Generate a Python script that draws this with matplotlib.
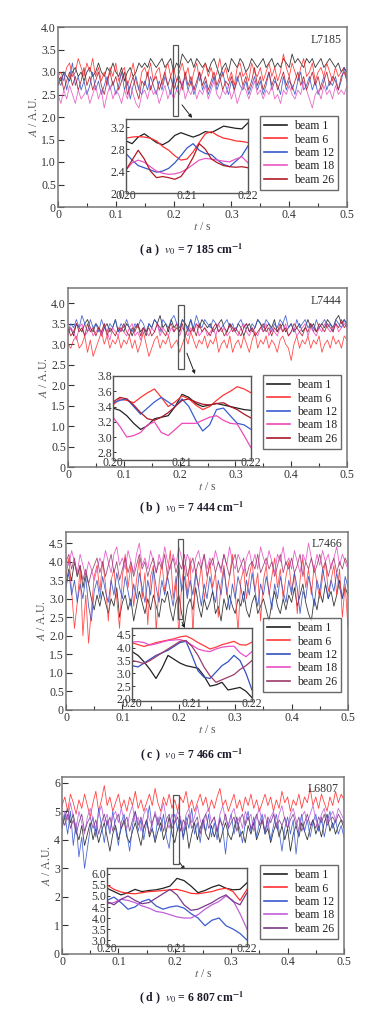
import numpy as np
import matplotlib
matplotlib.use("Agg")
import matplotlib.pyplot as plt
from matplotlib.patches import Rectangle
from matplotlib.ticker import FuncFormatter, MultipleLocator

plt.rcParams['font.family'] = ['Liberation Serif', 'DejaVu Serif']
plt.rcParams['mathtext.fontset'] = 'stix'

# --- time axes ---
t_main = np.linspace(0, 0.5, 101)
t_zoom = np.linspace(0.20, 0.22, 21)
beams = ["beam 1", "beam 6", "beam 12", "beam 18", "beam 26"]

# --- (a) L7185 ---
a_b1 = [2.9,2.8,3.0,2.9,2.8,3.0,3.1,2.9,3.0,2.8, 3.0,3.1,2.9,3.0,3.2,3.0,2.9,3.1,3.0,3.2,
        3.0,2.9,3.1,2.8,3.0,3.1,2.9,3.0,3.2,3.1, 3.2,3.1,3.3,3.2,3.1,3.2,3.3,3.1,3.2,3.3,
        3.0,3.2,3.1,3.4,3.3,3.2,3.3,3.1,3.3,3.2, 3.1,3.2,3.0,3.2,3.3,3.1,2.9,3.1,3.2,3.0,
        3.3,3.2,3.1,3.3,3.2,3.0,3.1,3.3,3.2,3.1, 3.2,3.3,3.1,3.2,3.3,3.1,3.2,3.1,3.3,3.2,
        3.1,3.4,3.2,3.3,3.2,3.1,3.3,3.2,3.3,3.1, 3.2,3.3,3.1,3.2,3.3,3.2,3.1,3.2,3.0,3.1, 3.0]
a_b6 = [2.9,3.0,2.8,3.1,3.2,2.9,3.0,3.3,3.1,2.9, 3.2,3.0,3.3,2.9,3.1,2.8,3.0,2.7,3.1,2.9,
        3.2,2.8,3.0,3.1,2.7,2.9,3.2,2.8,2.6,3.0, 3.1,2.9,3.2,2.8,3.0,3.1,2.7,3.0,3.2,2.9,
        3.1,2.8,3.0,3.2,2.9,3.1,2.7,3.0,3.2,2.8, 3.0,3.2,2.9,3.1,2.8,3.0,3.3,2.9,3.1,2.8,
        3.0,2.7,3.1,3.2,2.9,3.0,2.8,3.2,3.0,2.9, 3.1,2.8,3.0,3.2,2.9,3.1,2.8,3.0,3.4,3.1,
        2.9,3.2,3.0,2.8,3.1,3.3,2.9,3.0,3.2,2.8, 3.0,3.1,2.9,3.2,3.0,2.8,3.1,2.9,3.0,3.1, 2.9]
a_b12 = [2.8,2.7,3.0,2.6,2.9,3.2,2.7,2.9,2.6,2.8, 2.5,2.7,3.0,2.6,2.8,2.5,2.7,2.9,2.6,2.8,
         2.5,2.7,3.0,2.6,2.8,2.4,2.7,2.9,2.6,2.5, 2.8,2.6,2.9,2.7,2.5,2.8,2.6,2.9,2.7,2.5,
         2.9,2.6,2.8,2.7,2.9,2.6,2.8,2.5,2.7,3.0, 2.6,2.8,2.5,2.7,2.9,2.6,2.8,3.0,2.7,2.5,
         2.8,2.6,2.9,2.7,2.6,2.8,2.5,2.7,2.9,2.6, 2.8,2.5,2.7,3.0,2.6,2.8,2.7,2.5,2.9,2.6,
         2.8,2.7,2.5,2.8,3.0,2.6,2.7,2.9,2.6,2.8, 2.5,2.7,2.9,2.6,2.8,2.7,2.9,2.6,2.8,3.1, 2.8]
a_b18 = [2.5,2.3,2.6,2.4,2.7,2.5,2.3,2.6,2.4,2.5, 2.6,2.3,2.5,2.7,2.4,2.6,2.2,2.5,2.7,2.4,
         2.6,2.5,2.3,2.6,2.4,2.7,2.5,2.3,2.2,2.5, 2.6,2.4,2.7,2.5,2.6,2.3,2.5,2.7,2.4,2.6,
         2.4,2.6,2.5,2.8,2.4,2.6,2.5,2.7,2.4,2.6, 2.5,2.7,2.4,2.6,2.8,2.5,2.4,2.6,2.5,2.7,
         2.4,2.6,2.3,2.5,2.7,2.6,2.4,2.6,2.8,2.5, 2.6,2.4,2.6,2.5,2.7,2.4,2.5,2.3,2.6,2.5,
         2.7,2.5,2.4,2.6,2.5,2.8,2.6,2.4,2.2,2.5, 2.6,2.4,2.7,2.5,2.6,2.4,2.7,2.5,2.6,2.5, 2.7]
a_b26 = [2.7,2.9,2.6,2.8,3.0,2.7,2.9,2.6,2.8,3.1, 2.7,2.9,2.6,2.8,3.0,2.7,2.5,2.8,3.0,2.7,
         2.9,2.6,2.8,3.0,2.5,2.7,2.9,2.6,2.4,2.8, 2.7,3.0,2.6,2.8,2.9,2.6,2.8,3.0,2.7,2.9,
         2.6,2.8,2.9,2.6,3.0,2.7,2.9,2.6,2.8,3.0, 2.7,2.9,2.6,2.8,3.0,2.7,2.9,2.6,2.8,2.7,
         2.9,2.6,2.8,3.0,2.7,2.9,2.6,2.8,3.1,2.7, 2.9,2.6,2.8,3.0,2.7,2.9,2.6,2.8,3.0,2.7,
         2.9,2.6,2.8,3.0,2.7,2.9,2.6,2.8,3.0,2.7, 2.9,2.6,2.8,3.0,2.7,2.9,2.8,2.6,2.9,3.0, 2.8]
az_b1 = [2.95,2.90,3.02,3.08,3.00,2.92,2.88,2.94,3.05,3.10,3.06,3.02,3.06,3.12,3.10,3.16,3.22,3.20,3.18,3.17,3.28]
az_b6 = [3.00,3.02,3.03,3.02,3.00,2.95,2.85,2.78,2.68,2.60,2.62,2.75,2.92,3.08,3.12,3.05,3.00,2.98,2.95,2.94,2.92]
az_b12 = [2.72,2.60,2.50,2.46,2.42,2.38,2.40,2.45,2.55,2.68,2.82,2.90,2.78,2.72,2.70,2.60,2.52,2.48,2.58,2.68,2.86]
az_b18 = [2.42,2.55,2.60,2.56,2.48,2.40,2.36,2.34,2.35,2.38,2.44,2.52,2.60,2.63,2.62,2.60,2.58,2.57,2.62,2.66,2.55]
az_b26 = [2.42,2.60,2.78,2.62,2.40,2.28,2.30,2.28,2.25,2.30,2.45,2.65,2.90,2.80,2.62,2.55,2.50,2.48,2.47,2.48,2.46]

# --- (b) L7444 ---
b_b1 = [3.3,3.4,3.2,3.5,3.4,3.3,3.5,3.6,3.4,3.3, 3.5,3.4,3.2,3.4,3.5,3.3,3.4,3.6,3.3,3.4,
        3.3,3.5,3.4,3.2,3.4,3.5,3.3,3.4,3.2,3.5, 3.4,3.6,3.5,3.7,3.4,3.5,3.3,3.6,3.4,3.5,
        3.3,3.6,3.5,3.4,3.6,3.3,3.5,3.4,3.6,3.5, 3.4,3.5,3.3,3.4,3.5,3.6,3.4,3.3,3.5,3.4,
        3.3,3.5,3.4,3.2,3.4,3.5,3.3,3.4,3.6,3.5, 3.3,3.4,3.5,3.4,3.6,3.3,3.4,3.5,3.3,3.4,
        3.5,3.3,3.4,3.5,3.3,3.4,3.6,3.4,3.5,3.3, 3.4,3.5,3.4,3.6,3.5,3.4,3.6,3.7,3.5,3.6, 3.5]
b_b6 = [3.0,2.9,3.1,3.2,2.9,3.0,3.2,2.8,3.1,2.7, 2.9,3.1,3.3,3.0,3.2,2.9,3.1,3.0,3.2,2.9,
        3.1,3.0,3.2,2.9,3.1,2.8,3.0,3.3,3.0,2.7, 2.9,3.1,3.2,2.9,3.1,3.0,3.2,2.9,3.0,3.1,
        2.8,3.0,3.2,3.0,3.3,3.1,2.9,3.1,3.0,3.2, 2.9,3.1,3.0,3.2,2.8,3.0,3.1,2.9,3.2,2.8,
        3.0,3.1,2.9,3.2,3.0,2.8,3.1,3.3,2.9,3.1, 3.0,3.2,2.9,3.1,3.0,2.8,3.1,3.2,3.0,2.9,
        2.6,3.0,3.2,2.9,3.1,3.0,3.2,2.9,3.1,3.0, 3.2,2.8,3.0,3.1,2.9,3.2,3.0,3.1,2.9,3.2, 3.1]
b_b12 = [3.3,3.5,3.4,3.6,3.4,3.7,3.5,3.3,3.6,3.4, 3.5,3.3,3.6,3.4,3.3,3.5,3.4,3.6,3.3,3.5,
         3.4,3.6,3.4,3.3,3.5,3.4,3.6,3.5,3.3,3.5, 3.4,3.6,3.5,3.3,3.6,3.5,3.4,3.6,3.7,3.5,
         3.4,3.6,3.5,3.3,3.6,3.4,3.7,3.5,3.4,3.6, 3.5,3.4,3.6,3.5,3.3,3.4,3.5,3.6,3.4,3.5,
         3.3,3.5,3.6,3.4,3.5,3.3,3.5,3.4,3.6,3.5, 3.4,3.6,3.5,3.3,3.5,3.4,3.6,3.5,3.7,3.4,
         3.5,3.3,3.6,3.4,3.5,3.6,3.4,3.5,3.3,3.6, 3.4,3.5,3.6,3.4,3.5,3.3,3.6,3.5,3.4,3.6, 3.4]
b_b18 = [3.2,3.4,3.3,3.1,3.4,3.5,3.2,3.3,3.4,3.2, 3.3,3.4,3.2,3.5,3.3,3.1,3.4,3.3,3.2,3.4,
         3.3,3.2,3.4,3.5,3.2,3.3,3.1,3.4,3.3,3.2, 3.4,3.3,3.5,3.2,3.4,3.3,3.2,3.4,3.3,3.5,
         3.2,3.4,3.3,3.2,3.4,3.3,3.5,3.2,3.3,3.4, 3.2,3.3,3.4,3.2,3.5,3.3,3.4,3.2,3.3,3.4,
         3.3,3.2,3.4,3.5,3.3,3.2,3.4,3.3,3.2,3.4, 3.3,3.5,3.2,3.4,3.3,3.2,3.4,3.3,3.5,3.2,
         3.3,3.4,3.2,3.3,3.4,3.5,3.2,3.4,3.3,3.2, 3.4,3.3,3.5,3.4,3.3,3.4,3.5,3.3,3.4,3.5, 3.4]
b_b26 = [3.4,3.2,3.3,3.5,3.3,3.4,3.2,3.5,3.3,3.4, 3.2,3.4,3.3,3.5,3.2,3.4,3.3,3.2,3.4,3.3,
         3.5,3.3,3.2,3.4,3.3,3.5,3.2,3.4,3.3,3.4, 3.2,3.3,3.5,3.4,3.3,3.2,3.4,3.5,3.3,3.4,
         3.3,3.5,3.2,3.4,3.3,3.4,3.2,3.5,3.3,3.4, 3.3,3.2,3.4,3.5,3.3,3.4,3.2,3.3,3.5,3.3,
         3.4,3.3,3.2,3.4,3.5,3.3,3.4,3.2,3.3,3.4, 3.5,3.3,3.4,3.2,3.4,3.3,3.5,3.3,3.4,3.2,
         3.3,3.5,3.4,3.3,3.2,3.4,3.3,3.5,3.4,3.3, 3.5,3.4,3.3,3.5,3.4,3.3,3.5,3.4,3.6,3.4, 3.5]
bz_b1 = [3.38,3.35,3.28,3.18,3.10,3.15,3.24,3.26,3.28,3.40,3.56,3.52,3.44,3.40,3.42,3.44,3.42,3.40,3.38,3.36,3.35]
bz_b6 = [3.42,3.50,3.48,3.45,3.52,3.58,3.63,3.52,3.40,3.46,3.54,3.50,3.42,3.36,3.40,3.48,3.55,3.60,3.66,3.63,3.58]
bz_b12 = [3.45,3.48,3.50,3.40,3.30,3.38,3.46,3.52,3.46,3.40,3.50,3.40,3.22,3.08,3.16,3.36,3.38,3.28,3.18,3.16,3.10]
bz_b18 = [3.26,3.14,3.00,3.02,3.06,3.16,3.20,3.06,3.02,3.10,3.18,3.18,3.18,3.22,3.26,3.28,3.22,3.18,3.17,3.02,2.86]
bz_b26 = [3.46,3.52,3.50,3.42,3.32,3.24,3.22,3.26,3.32,3.40,3.48,3.50,3.46,3.43,3.42,3.44,3.45,3.40,3.36,3.30,3.25]

# --- (c) L7466 ---
c_b1 = [3.4,3.8,3.5,4.0,3.6,3.9,3.3,3.7,3.4,3.0, 2.7,3.1,2.8,3.2,2.9,2.6,3.0,2.8,3.3,2.5,
        2.9,3.1,2.7,3.0,2.4,2.8,3.2,2.9,2.6,3.0, 2.7,3.1,2.8,2.5,3.0,2.9,3.2,2.7,2.4,2.9,
        3.1,2.6,2.3,2.8,3.0,2.7,3.3,2.8,2.5,3.0, 2.7,2.9,3.2,2.6,2.8,2.4,3.0,2.7,3.1,2.8,
        2.6,3.0,2.8,3.2,2.7,2.5,2.9,3.1,2.6,2.8, 3.0,2.7,2.4,2.9,3.2,2.8,2.6,3.0,2.7,3.1,
        2.9,3.3,2.8,3.1,3.4,2.9,2.6,2.4,3.0,2.7, 3.2,2.9,3.4,3.0,3.2,2.8,3.1,3.5,3.0,3.3, 3.1]
c_b6 = [3.6,4.1,3.2,2.2,2.9,3.8,2.0,3.1,1.8,2.7, 3.6,3.9,3.2,4.0,3.4,2.4,3.5,3.8,3.0,2.2,
        3.6,4.2,3.3,3.9,2.8,3.5,4.1,3.0,3.7,2.3, 3.6,3.9,2.1,3.4,4.0,3.2,3.7,4.3,3.0,3.6,
        2.0,3.4,3.9,3.1,4.1,2.0,3.8,3.3,3.9,3.0, 3.5,4.0,3.3,3.7,2.5,3.4,3.9,3.1,3.6,4.2,
        3.2,2.1,3.5,3.8,3.0,3.6,4.0,3.2,3.7,2.4, 3.5,3.9,3.1,3.6,4.1,3.3,3.8,3.0,3.6,4.0,
        3.2,3.7,2.6,3.5,4.1,3.3,3.8,3.1,3.9,3.4, 3.0,3.6,4.0,3.2,3.5,3.9,3.1,3.8,2.5,3.4, 2.2]
c_b12 = [3.3,3.7,3.1,3.5,2.9,3.4,3.0,3.6,2.8,2.4, 3.2,3.5,3.0,3.6,3.2,2.9,3.5,3.1,3.7,3.3,
         3.0,3.6,3.2,2.8,3.4,3.0,3.7,3.3,2.9,3.5, 3.1,3.8,3.3,2.9,3.5,3.1,3.6,3.2,2.8,3.4,
         3.9,3.2,3.6,3.0,3.5,3.1,3.7,3.3,2.8,3.4, 3.0,3.6,3.2,2.9,3.5,3.1,3.8,3.2,2.7,3.4,
         3.0,3.6,3.3,2.9,3.5,3.1,3.7,3.2,2.8,3.4, 3.1,3.6,3.2,2.7,3.4,3.0,3.6,3.2,2.9,3.5,
         3.1,3.7,3.3,2.6,3.2,3.0,3.6,3.3,2.8,3.5, 3.2,3.8,3.4,3.0,3.5,3.2,3.7,3.3,3.0,3.6, 3.3]
c_b18 = [4.1,3.9,4.3,4.0,3.7,4.2,3.9,3.6,4.0,3.8, 3.5,3.8,4.1,3.9,4.3,4.0,3.7,4.2,4.4,3.9,
         4.1,3.8,4.3,4.0,3.7,4.2,4.5,3.9,4.1,3.8, 4.3,4.0,3.7,4.2,3.9,4.4,4.0,3.8,4.2,3.9,
         4.4,4.1,3.8,4.2,4.0,3.7,4.1,4.3,3.9,4.2, 3.8,4.1,3.9,4.3,4.0,3.7,4.2,3.9,4.4,4.0,
         3.8,4.2,4.0,3.7,4.1,4.3,3.9,4.2,3.8,4.4, 4.1,3.9,4.3,4.0,3.7,4.2,4.0,4.4,3.9,4.1,
         3.8,4.3,4.0,3.7,4.2,4.0,4.5,4.1,3.8,4.2, 3.9,4.3,4.0,4.2,3.8,4.1,4.4,3.9,4.2,4.0, 3.8]
c_b26 = [4.0,4.2,3.8,4.1,3.6,3.9,3.5,3.8,3.4,3.7, 3.9,4.1,3.7,4.0,3.6,3.9,4.2,3.7,4.0,3.5,
         3.8,4.1,3.7,4.0,3.6,3.9,4.2,3.8,4.0,3.6, 3.9,4.1,3.7,4.0,3.8,4.2,3.6,3.9,4.1,3.7,
         4.0,3.8,4.2,3.6,3.9,4.1,3.7,4.0,3.8,4.2, 3.6,3.9,4.1,3.7,4.0,3.8,4.2,3.9,3.6,4.0,
         4.2,3.7,3.9,4.1,3.6,3.9,4.0,3.8,4.2,3.7, 3.9,4.1,3.8,4.0,3.6,3.9,4.2,3.7,4.0,3.8,
         4.1,3.7,3.9,4.2,3.6,4.0,3.8,4.1,3.7,3.9, 4.2,3.8,4.0,3.6,3.9,4.1,3.7,4.0,3.8,4.1, 3.9]
cz_b1 = [3.85,3.70,3.45,3.15,2.80,3.20,3.70,3.55,3.40,3.30,3.25,3.20,2.90,2.50,2.55,2.65,2.35,2.40,2.45,2.30,2.05]
cz_b6 = [4.20,4.12,4.05,4.12,4.20,4.25,4.30,4.35,4.42,4.46,4.35,4.20,4.08,3.95,4.02,4.12,4.18,4.25,4.12,4.10,4.22]
cz_b12 = [3.30,3.25,3.40,3.55,3.70,3.80,3.90,4.05,4.20,4.25,3.70,3.10,2.85,2.80,3.05,3.30,3.45,3.70,3.50,3.00,2.35]
cz_b18 = [4.22,4.24,4.20,4.10,4.15,4.22,4.28,4.30,4.32,4.25,4.10,3.95,3.88,3.85,3.95,4.02,4.05,4.06,3.80,3.65,3.85]
cz_b26 = [3.50,3.45,3.38,3.50,3.65,3.80,3.95,4.10,4.25,4.28,4.05,3.70,3.25,2.90,2.65,2.75,2.85,2.95,3.15,3.30,3.50]

# --- (d) L6807 ---
d_b1 = [4.4,4.8,5.1,4.6,4.9,4.3,4.0,4.5,3.8,4.2, 4.6,4.0,4.4,3.9,4.3,4.6,4.1,3.6,4.2,4.5,
        4.0,4.4,4.7,4.1,3.9,4.3,4.6,4.2,3.8,4.4, 4.7,4.1,4.4,3.9,4.3,4.6,4.0,4.3,4.8,4.2,
        3.9,4.4,4.7,4.1,4.5,3.7,4.2,4.6,4.0,4.4, 4.7,4.2,4.0,4.5,4.1,4.4,3.9,4.3,4.6,4.2,
        4.0,4.4,4.8,4.1,4.3,3.9,4.5,4.2,4.6,4.0, 4.3,4.7,4.2,4.4,3.9,4.3,4.6,4.1,4.5,4.0,
        4.4,3.6,4.2,4.5,4.1,4.6,4.3,4.0,4.4,4.7, 4.2,4.5,4.1,4.6,4.9,4.3,4.6,4.2,4.5,4.7, 4.4]
d_b6 = [5.2,5.5,5.0,5.6,5.3,4.9,5.4,5.1,5.6,5.2, 4.8,5.3,5.7,5.0,5.4,5.9,5.2,5.5,5.0,5.3,
        5.6,5.1,5.4,5.0,5.5,5.2,5.7,5.1,5.4,5.0, 5.3,5.6,5.2,5.8,5.3,5.0,5.5,5.2,5.6,5.1,
        5.4,5.0,5.5,5.3,5.7,5.1,5.4,5.0,5.3,5.6, 5.2,5.5,5.0,5.4,5.1,5.5,5.8,5.2,5.4,5.0,
        5.3,5.6,5.1,5.4,5.0,5.5,5.2,5.6,5.1,5.4, 5.0,5.3,5.6,5.2,5.5,5.0,5.4,5.1,5.7,5.3,
        5.5,5.0,5.4,5.2,5.6,5.1,5.5,5.3,5.8,5.2, 5.5,5.1,5.6,5.3,5.0,5.5,5.2,5.7,5.3,5.6, 5.4]
d_b12 = [4.5,4.9,4.2,5.0,3.8,4.6,3.4,4.1,3.0,3.7, 4.4,4.8,4.1,5.1,4.5,3.9,4.7,4.2,5.0,4.4,
         3.8,4.6,4.9,4.2,3.6,4.5,5.0,4.3,4.7,4.0, 4.6,5.2,4.4,4.0,4.8,4.3,4.9,4.1,3.7,4.6,
         4.9,4.3,4.7,4.0,4.8,4.4,5.1,4.2,4.6,3.9, 4.7,4.3,4.9,4.1,4.6,4.0,4.8,4.4,3.5,4.5,
         4.9,4.2,4.7,4.4,3.9,4.6,5.0,4.3,4.8,4.1, 4.6,4.9,4.2,4.7,4.0,4.5,4.9,4.3,3.6,4.4,
         4.8,4.2,4.7,3.5,4.4,4.9,4.3,4.7,4.1,4.6, 4.9,4.3,4.8,4.1,4.6,5.0,4.4,4.7,4.2,4.5, 4.1]
d_b18 = [4.6,5.0,4.7,5.3,4.8,4.4,5.0,4.6,4.2,4.8, 5.1,4.7,4.4,4.9,5.2,4.6,4.9,4.3,4.8,5.0,
         4.6,5.1,4.7,4.4,4.9,5.2,4.6,4.8,4.3,4.9, 5.1,4.7,4.5,5.0,4.6,4.9,5.3,4.7,4.4,4.9,
         4.6,5.0,4.8,4.3,4.9,5.1,4.6,4.8,5.2,4.7, 4.4,4.9,5.1,4.6,4.8,4.3,4.9,5.2,4.7,4.5,
         4.9,5.1,4.6,4.8,4.4,5.0,4.7,4.9,4.3,4.8, 5.1,4.6,4.9,4.4,4.8,5.0,4.5,4.9,5.2,4.7,
         4.4,4.9,5.1,4.7,4.3,4.8,5.0,4.6,4.9,5.2, 4.7,4.5,4.9,5.1,4.6,4.8,5.0,4.7,5.1,4.9, 4.7]
d_b26 = [4.8,4.5,4.9,4.4,4.7,4.2,4.6,4.9,4.3,4.6, 4.8,4.4,4.7,4.2,4.6,4.9,4.5,4.8,4.3,4.7,
         4.9,4.4,4.6,4.8,4.3,4.7,5.0,4.5,4.8,4.4, 4.7,4.2,4.6,4.9,4.5,4.8,4.3,4.7,4.9,4.4,
         4.6,4.8,4.3,4.7,4.5,4.9,4.4,4.6,4.8,4.2, 4.7,4.9,4.4,4.6,4.8,4.3,4.7,4.5,4.9,4.4,
         4.6,4.8,4.3,4.7,4.9,4.5,4.8,4.4,4.6,4.9, 4.5,4.7,4.3,4.8,4.6,4.9,4.4,4.7,4.5,4.8,
         4.4,4.7,4.9,4.5,4.8,4.3,4.6,4.9,4.5,4.7, 4.4,4.8,4.6,4.9,4.5,4.7,4.8,4.6,4.9,4.7, 4.6]
dz_b1 = [5.35,5.20,5.05,5.15,5.30,5.20,5.25,5.28,5.35,5.45,5.80,5.70,5.45,5.15,5.25,5.40,5.50,5.35,5.28,5.30,5.60]
dz_b6 = [5.50,5.30,5.18,5.12,5.10,5.15,5.20,5.22,5.25,5.28,5.30,5.22,5.12,5.10,5.15,5.20,5.30,5.35,5.20,4.80,5.30]
dz_b12 = [4.80,4.95,4.70,4.40,4.50,4.75,4.85,4.55,4.40,4.50,4.55,4.45,4.20,4.00,3.65,3.90,4.00,3.65,3.50,3.30,3.00]
dz_b18 = [4.65,4.70,4.85,4.80,4.70,4.55,4.45,4.30,4.25,4.15,4.05,4.00,4.00,4.15,4.40,4.60,4.75,5.00,4.80,4.20,3.50]
dz_b26 = [4.75,4.60,4.85,5.00,4.80,4.65,4.70,4.90,5.10,5.30,5.05,4.60,4.35,4.40,4.55,4.70,4.90,5.05,4.75,4.60,5.15]

W, H = 383, 1018

def px_rect(x0, y0, x1, y1):
    # pixel box (top-left origin) -> figure fraction
    return [x0 / W, 1 - y1 / H, (x1 - x0) / W, (y1 - y0) / H]

panels = [
    dict(main=[a_b1, a_b6, a_b12, a_b18, a_b26], zoom=[az_b1, az_b6, az_b12, az_b18, az_b26],
         colors=['#222222', '#ff3030', '#3558c8', '#e858c0', '#b01a28'],
         ax=(58, 27, 347, 207), ins=(126, 119, 248, 193), leg=(260, 116),
         ylim=4.0, ystep=0.5, zlim=(2.0, 3.35), zstep=0.4, name='L7185',
         rect=(0.199, 2.02, 0.0085, 1.58), arrow=((0.2145, 2.27), (0.232, 1.98)),
         cap='( a )  $\\mathbf{\\it{v}_0}$ = 7 185 cm$^{\\mathbf{-1}}$', cap_y=250),
    dict(main=[b_b1, b_b6, b_b12, b_b18, b_b26], zoom=[bz_b1, bz_b6, bz_b12, bz_b18, bz_b26],
         colors=['#222222', '#ff3838', '#3a5cd0', '#f048b8', '#a81828'],
         ax=(68, 288, 347, 467), ins=(113, 376, 251, 460), leg=(263, 375),
         ylim=4.37, ystep=0.5, zlim=(2.7, 3.8), zstep=0.2, name='L7444',
         rect=(0.197, 2.39, 0.011, 1.56), arrow=((0.213, 2.78), (0.2276, 2.27)),
         cap='( b )  $\\mathbf{\\it{v}_0}$ = 7 444 cm$^{\\mathbf{-1}}$', cap_y=508),
    dict(main=[c_b1, c_b6, c_b12, c_b18, c_b26], zoom=[cz_b1, cz_b6, cz_b12, cz_b18, cz_b26],
         colors=['#222222', '#ff3a3a', '#3550c0', '#e850c8', '#9c3a6a'],
         ax=(66, 532, 348, 710), ins=(132, 628, 252, 701), leg=(263, 618),
         ylim=4.8, ystep=0.5, zlim=(1.92, 4.77), zstep=0.5, name='L7466',
         rect=(0.199, 2.45, 0.008, 2.16), arrow=((0.2057, 2.37), (0.211, 2.21)),
         cap='( c )  $\\mathbf{\\it{v}_0}$ = 7 466 cm$^{\\mathbf{-1}}$', cap_y=755),
    dict(main=[d_b1, d_b6, d_b12, d_b18, d_b26], zoom=[dz_b1, dz_b6, dz_b12, dz_b18, dz_b26],
         colors=['#222222', '#ff3030', '#3a5ad0', '#c060d8', '#7a3a8a'],
         ax=(62, 777, 344, 954), ins=(107, 868, 247, 946), leg=(260, 865),
         ylim=6.2, ystep=1.0, zlim=(2.73, 6.27), zstep=0.5, name='L6807',
         rect=(0.197, 3.16, 0.0105, 2.42), arrow=((0.209, 3.19), (0.218, 2.95)),
         cap='( d )  $\\mathbf{\\it{v}_0}$ = 6 807 cm$^{\\mathbf{-1}}$', cap_y=998),
]

fig = plt.figure(figsize=(W / 100, H / 100), dpi=100)
tick_col = '#333333'

def y_fmt(step):
    if step >= 1:
        return FuncFormatter(lambda v, p: f"{v:.0f}")
    return FuncFormatter(lambda v, p: "0" if abs(v) < 1e-9 else f"{v:.1f}")

for P in panels:
    ax = fig.add_axes(px_rect(*P['ax']))
    for ys, c in zip(P['main'], P['colors']):
        ax.plot(t_main, ys, color=c, lw=0.6, alpha=0.9)
    ax.set_xlim(0, 0.5)
    ax.set_ylim(0, P['ylim'])
    ax.xaxis.set_major_locator(MultipleLocator(0.1))
    ax.xaxis.set_minor_locator(MultipleLocator(0.05))
    ax.yaxis.set_major_locator(MultipleLocator(P['ystep']))
    ax.xaxis.set_major_formatter(FuncFormatter(lambda v, p: "0" if abs(v) < 1e-9 else f"{v:.1f}"))
    ax.yaxis.set_major_formatter(y_fmt(P['ystep']))
    ax.tick_params(which='both', direction='in', top=False, right=False,
                   labelsize=8.5, colors=tick_col, pad=1.5)
    ax.tick_params(which='major', length=4, width=0.8)
    ax.tick_params(which='minor', length=3, width=0.8)
    for s in ax.spines.values():
        s.set_color('#777777')
        s.set_linewidth(1.1)
    ax.set_xlabel('$\\it{t}$ / s', fontsize=8.5, color='#555555', labelpad=0)
    ax.set_ylabel('$\\it{A}$ / A.U.', fontsize=8.5, color='#555555', labelpad=1)
    ax.text(0.98, 0.93, P['name'], transform=ax.transAxes, ha='right', va='center',
            fontsize=8.5, color='#333333')
    rx, ry, rw, rh = P['rect']
    ax.add_patch(Rectangle((rx, ry), rw, rh, fill=False, ec='#555555', lw=0.9, zorder=5))
    ax.annotate('', xy=P['arrow'][1], xytext=P['arrow'][0], annotation_clip=False,
                arrowprops=dict(arrowstyle='-|>', color='#222222', lw=0.7,
                                mutation_scale=5, shrinkA=0, shrinkB=0), zorder=6)

    # zoomed inset
    ia = fig.add_axes(px_rect(*P['ins']))
    handles = []
    for ys, c, lab in zip(P['zoom'], P['colors'], beams):
        h, = ia.plot(t_zoom, ys, color=c, lw=0.9, label=lab)
        handles.append(h)
    ia.set_xlim(0.20, 0.22)
    ia.set_ylim(*P['zlim'])
    ia.set_xticks([0.20, 0.21, 0.22])
    ia.xaxis.set_major_formatter(FuncFormatter(lambda v, p: f"{v:.2f}"))
    ia.yaxis.set_major_locator(MultipleLocator(P['zstep']))
    ia.yaxis.set_major_formatter(FuncFormatter(lambda v, p: f"{v:.1f}"))
    ia.tick_params(direction='in', top=False, right=False, labelsize=8.5,
                   colors=tick_col, length=2.5, width=0.7, pad=0.5)
    ia.tick_params(axis='x', pad=-2.5)
    for s in ia.spines.values():
        s.set_color('#555555')
        s.set_linewidth(1.0)

    lx, ly = P['leg']
    leg = fig.legend(handles=handles, loc='upper left', bbox_to_anchor=(lx / W, 1 - ly / H),
                     bbox_transform=fig.transFigure, fontsize=8.5, frameon=True,
                     fancybox=False, handlelength=1.9, handletextpad=0.6,
                     labelspacing=0.12, borderpad=0.35, borderaxespad=0)
    leg.get_frame().set_edgecolor('#444444')
    leg.get_frame().set_linewidth(1.0)
    for ln in leg.get_lines():
        ln.set_linewidth(1.2)
    for tx in leg.get_texts():
        tx.set_color('#222222')

    fig.text(0.5, 1 - P['cap_y'] / H, P['cap'], ha='center', va='center',
             fontsize=8.5, color='#1a1a2a', fontweight='bold')

fig.savefig('out.png', dpi=100)
